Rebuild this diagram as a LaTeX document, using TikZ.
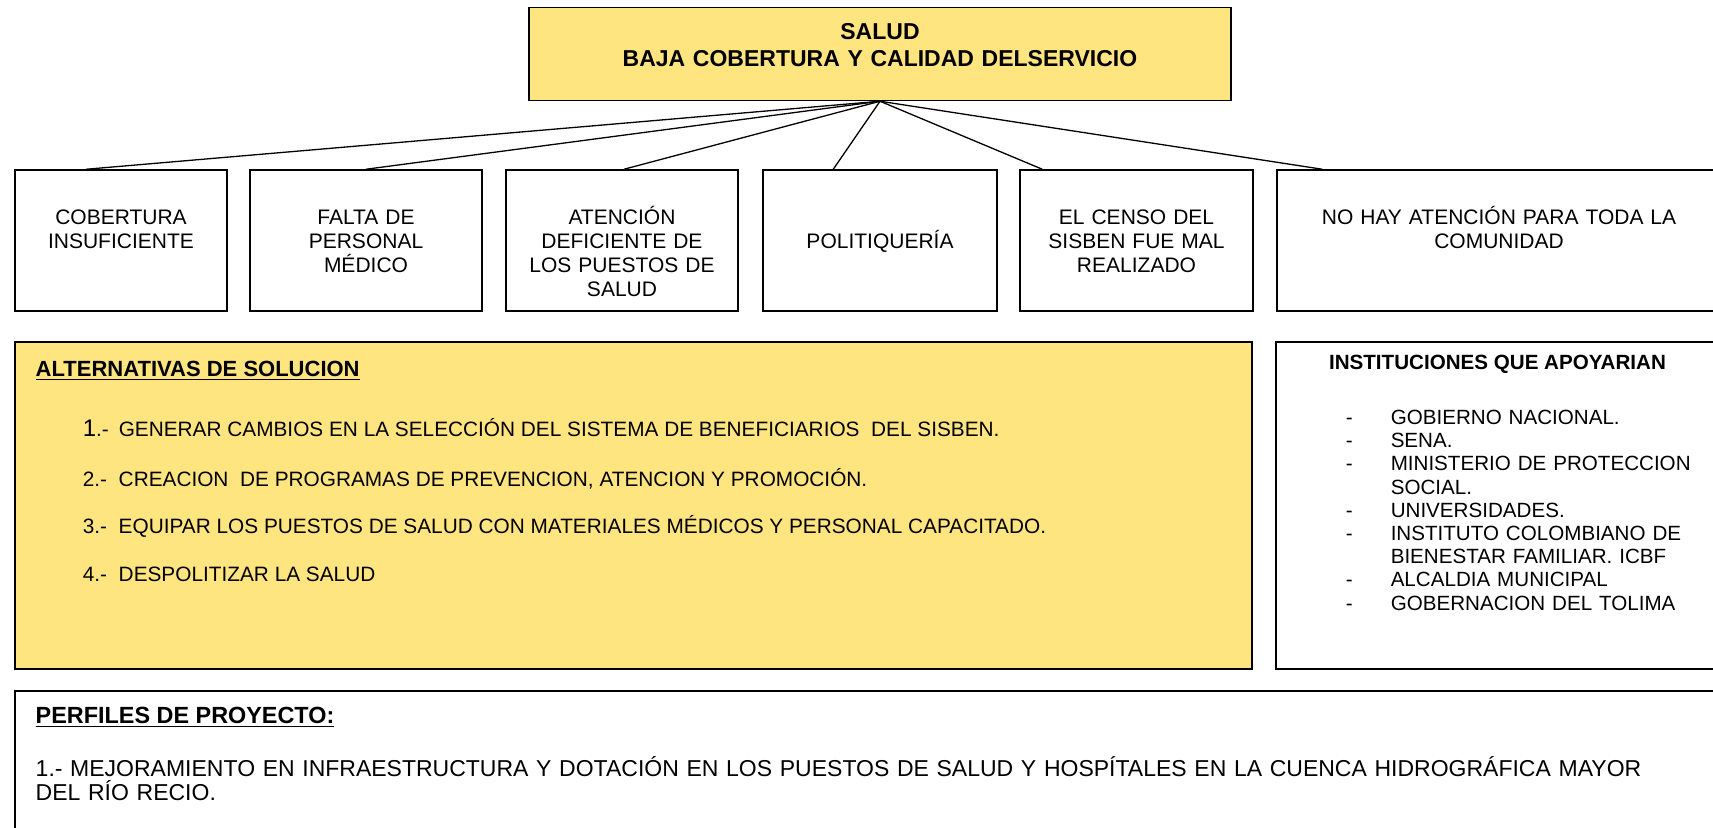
\documentclass[tikz,border=0pt]{standalone}
\usepackage{fontspec}
\setmainfont{Liberation Sans}
\definecolor{amarillo}{RGB}{255,229,128}
\newcommand{\guion}{\makebox[22.5pt][l]{-}}

\begin{document}
\begin{tikzpicture}[x=0.5pt, y=-0.5pt, line width=0.75pt,
    caja/.style={draw, inner sep=0pt, align=center},
    causa/.style={caja, text width=#1, text height=27.2pt, text depth=43.3pt, font=\fontsize{10.5}{11.95}\selectfont},
    texto/.style={anchor=base west, inner sep=0pt},
    item/.style={texto, font=\fontsize{10.4}{12}\selectfont},
    conector/.style={line width=0.65pt}]
    \useasboundingbox (0,0) rectangle (1713,828);

    \node [caja, fill=amarillo, text width=351pt, text height=15.9pt, text depth=30.6pt, font=\bfseries\fontsize{11.5}{13.7}\selectfont] (salud) at (880,54) {SALUD\\BAJA COBERTURA Y CALIDAD DELSERVICIO};

    \node [causa=106pt] (c1) at (121,240.5) {COBERTURA\\INSUFICIENTE};
    \node [causa=116pt] (c2) at (366,240.5) {FALTA DE\\PERSONAL\\MÉDICO};
    \node [causa=116pt] (c3) at (622,240.5) {ATENCIÓN\\DEFICIENTE DE\\LOS PUESTOS DE\\SALUD};
    \node [causa=117pt] (c4) at (880,240.5) {\mbox{}\\POLITIQUERÍA};
    \node [causa=116.5pt] (c5) at (1136.5,240.5) {EL CENSO DEL\\SISBEN FUE MAL\\REALIZADO};
    \node [causa=222pt] (c6) at (1499,240.5) {NO HAY ATENCIÓN PARA TODA LA\\COMUNIDAD};

    \path [conector] (salud.south) edge ([xshift=36pt]c1.north west);
    \path [conector] (salud.south) edge (c2.north);
    \path [conector] (salud.south) edge ([xshift=1pt]c3.north);
    \path [conector] (salud.south) edge ([xshift=35.5pt]c4.north west);
    \path [conector] (salud.south) edge ([xshift=11.5pt]c5.north west);
    \path [conector] (salud.south) edge ([xshift=23pt]c6.north west);

    \node [caja, fill=amarillo, minimum width=618.5pt, minimum height=163.5pt] (alternativas) at (633.5,505.5) {};
    \node [texto, font=\bfseries\fontsize{11}{13}\selectfont] (alth) at (35,376.7) {\underline{ALTERNATIVAS DE SOLUCION}};
    \node [item] (alt1) at (82,436.7) {\makebox[18pt][l]{{\fontsize{12}{12}\selectfont 1}.-}GENERAR CAMBIOS EN LA SELECCIÓN DEL SISTEMA DE BENEFICIARIOS\ \ DEL SISBEN.};
    \node [item] (alt2) at (82,486.7) {\makebox[18pt][l]{2.-}CREACION\ \ DE PROGRAMAS DE PREVENCION, ATENCION Y PROMOCIÓN.};
    \node [item] (alt3) at (82,533.5) {\makebox[18pt][l]{3.-}EQUIPAR LOS PUESTOS DE SALUD CON MATERIALES MÉDICOS Y PERSONAL CAPACITADO.};
    \node [item] (alt4) at (82,581.7) {\makebox[18pt][l]{4.-}DESPOLITIZAR LA SALUD};

    \node [caja, minimum width=222.5pt, minimum height=163.5pt] (instituciones) at (1498.5,505.5) {};
    \node [anchor=base, inner sep=0pt, font=\bfseries\fontsize{10.3}{12}\selectfont] (insth) at (1497.5,369.5) {INSTITUCIONES QUE APOYARIAN};
    \node [texto, text width=200pt, align=left, font=\fontsize{10.3}{11.6}\selectfont] (instl) at (1345,424.5) {\guion GOBIERNO NACIONAL.\\\guion SENA.\\\guion MINISTERIO DE PROTECCION\\\hspace*{22.5pt}SOCIAL.\\\guion UNIVERSIDADES.\\\guion INSTITUTO COLOMBIANO DE\\\hspace*{22.5pt}BIENESTAR FAMILIAR. ICBF\\\guion ALCALDIA MUNICIPAL\\\guion GOBERNACION DEL TOLIMA};

    \node [caja, minimum width=853pt, minimum height=104pt] (perfiles) at (868,795) {};
    \node [texto, font=\bfseries\fontsize{11.7}{14}\selectfont] (perfh) at (35,723.3) {\underline{PERFILES DE PROYECTO:}};
    \node [texto, text width=830pt, align=left, font=\fontsize{11.5}{12}\selectfont] (perf1) at (35,776.7) {1.- MEJORAMIENTO EN INFRAESTRUCTURA Y DOTACIÓN EN LOS PUESTOS DE SALUD Y HOSPÍTALES EN LA CUENCA HIDROGRÁFICA MAYOR\\DEL RÍO RECIO.};
\end{tikzpicture}
\end{document}
